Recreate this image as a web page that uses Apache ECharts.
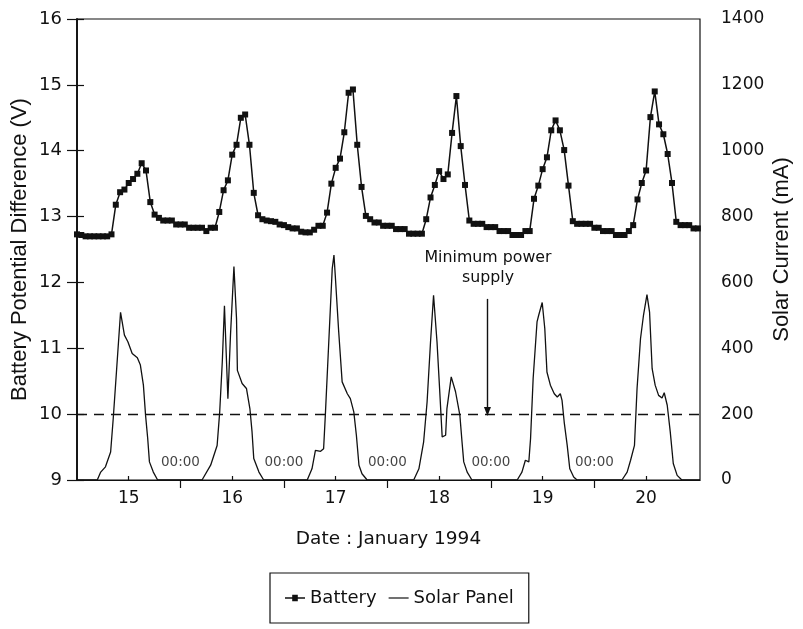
<!DOCTYPE html>
<html>
<head>
<meta charset="utf-8">
<script src="https://cdn.jsdelivr.net/npm/echarts@6/dist/echarts.min.js"></script>
<style>
  html, body { margin: 0; padding: 0; background: #fff; }
  #chart { width: 803px; height: 629px; }
</style>
</head>
<body>
<div id="chart"></div>
<script>
// Day labels shown at noon of each day (x axis is hours from 00:00, 15 Jan 1994)
const dayLabels = ['15', '16', '17', '18', '19', '20'];
const dayNoonHours = [12, 36, 60, 84, 108, 132];
const midnightHours = [24, 48, 72, 96, 120];

// Battery potential difference (V), hourly readings from 00:00 on the 15th
const batteryVolts = [
  12.73, 12.72, 12.70, 12.70, 12.70, 12.70, 12.70, 12.70, 12.73, 13.18,
  13.37, 13.41, 13.51, 13.57, 13.65, 13.81, 13.70, 13.22, 13.03, 12.98,
  12.94, 12.94, 12.94, 12.88, 12.88, 12.88, 12.83, 12.83, 12.83, 12.83,
  12.78, 12.83, 12.83, 13.07, 13.40, 13.55, 13.94, 14.09, 14.50, 14.55,
  14.09, 13.36, 13.02, 12.96, 12.94, 12.93, 12.92, 12.88,
  12.87, 12.84, 12.82, 12.82, 12.77, 12.76, 12.76, 12.80, 12.86, 12.86,
  13.06, 13.50, 13.74, 13.88, 14.28, 14.88, 14.93, 14.09, 13.45, 13.01,
  12.96, 12.91, 12.91, 12.86, 12.86, 12.86, 12.81, 12.81, 12.81, 12.74,
  12.74, 12.74, 12.74, 12.96, 13.29, 13.48, 13.69, 13.57, 13.64, 14.27,
  14.83, 14.07, 13.48, 12.94, 12.89, 12.89, 12.89, 12.84,
  12.84, 12.84, 12.78, 12.78, 12.78, 12.72, 12.72, 12.72, 12.78, 12.78,
  13.27, 13.47, 13.72, 13.90, 14.31, 14.46, 14.31, 14.01, 13.47, 12.93,
  12.89, 12.89, 12.89, 12.89, 12.83, 12.83, 12.78, 12.78, 12.78, 12.72,
  12.72, 12.72, 12.78, 12.87, 13.26, 13.51, 13.70, 14.51, 14.90, 14.40,
  14.25, 13.95, 13.51, 12.92, 12.87, 12.87, 12.87, 12.82, 12.82
];

// Solar panel current (mA): sample times (hours) and values
const solarHours = [
  0, 4.7, 5.5, 6.6, 7.8, 8.4, 9.2, 10.1, 11.0, 11.8, 12.8, 14.0, 14.7, 15.4, 15.9, 16.4, 16.8, 17.7, 18.7,
  29.0, 31.0, 32.5, 33.1, 33.7, 34.2, 35.0, 35.6, 36.4, 37.0, 37.2, 38.3, 39.3, 40.1, 40.6, 41.0, 42.2, 43.3,
  53.4, 54.5, 55.3, 56.5, 57.2, 57.6, 58.4, 59.2, 59.6, 59.9, 60.7, 61.5, 62.7, 63.4, 64.2, 64.8, 65.4, 66.1, 67.3,
  78.1, 79.3, 80.4, 81.2, 82.0, 82.7, 83.5, 84.1, 84.7, 85.5, 85.8, 86.8, 87.8, 88.8, 89.3, 89.7, 90.5, 91.6,
  102.1, 103.2, 104.0, 104.8, 105.2, 105.8, 106.7, 107.1, 107.9, 108.5, 109.0, 109.8, 110.7, 111.4, 112.1, 112.5, 113.0, 113.7, 114.3, 115.2, 116.0,
  126.4, 127.6, 128.4, 129.3, 129.9, 130.7, 131.4, 132.2, 132.8, 133.4, 134.1, 134.9, 135.7, 136.2, 136.9, 137.6, 138.3, 139.2, 140.3, 144.5
];
const solarCurrent = [
  0, 0, 24, 40, 85, 186, 338, 509, 440, 420, 384, 371, 349, 288, 197, 126, 55, 24, 0,
  0, 45, 105, 207, 359, 529, 247, 440, 648, 490, 333, 293, 278, 217, 146, 65, 24, 0,
  0, 34, 90, 87, 95, 197, 420, 642, 683, 622, 450, 298, 262, 247, 207, 136, 45, 19, 0,
  0, 34, 116, 237, 420, 561, 420, 278, 131, 136, 217, 313, 268, 197, 116, 55, 24, 0,
  0, 24, 60, 55, 126, 308, 480, 501, 539, 460, 328, 288, 262, 252, 262, 242, 176, 105, 34, 9, 0,
  0, 24, 60, 105, 278, 429, 501, 563, 510, 338, 288, 257, 249, 265, 227, 146, 50, 14, 0, 0
];

// Minimum power supply level (V) and the annotation arrow (hour, V from -> V to)
const minimumSupplyVolts = 10;
const arrowHour = 95.2;
const arrowFromVolts = 11.75;
const arrowToVolts = 10.04;
const midnightLabelVolts = 9.27;

const FONT = 'DejaVu Sans';
const TITLE_FONT = 'Liberation Sans';
const INK = '#111';

const batteryData = batteryVolts.map((v, h) => [h, v]);
const solarData = solarHours.map((h, i) => [h, solarCurrent[i]]);
const midnightData = midnightHours.map(h => [h, midnightLabelVolts]);

// Legend glyphs: line with a square marker, and a plain line
const batteryIcon = 'path://M0,4.3L7.2,4.3L7.2,1.8L12.8,1.8L12.8,4.3L20,4.3L20,5.7L12.8,5.7L12.8,8.2L7.2,8.2L7.2,5.7L0,5.7Z';
const solarIcon = 'path://M0,4.4L20,4.4L20,5.6L0,5.6Z';

const chart = echarts.init(document.getElementById('chart'), null, { renderer: 'canvas' });

chart.setOption({
  animation: false,
  backgroundColor: '#fff',
  textStyle: { fontFamily: FONT, color: INK },
  grid: {
    left: 77, right: 103, top: 19, bottom: 149,
    containLabel: false, outerBoundsMode: 'none',
    show: true, borderColor: INK, borderWidth: 1.2, backgroundColor: 'transparent'
  },
  legend: {
    data: [
      { name: 'Battery', icon: batteryIcon },
      { name: 'Solar Panel', icon: solarIcon }
    ],
    left: 270, top: 573,
    padding: [16, 15],
    itemGap: 12, itemWidth: 20, itemHeight: 10,
    borderColor: INK, borderWidth: 1.2,
    backgroundColor: '#fff',
    textStyle: { fontFamily: FONT, fontSize: 18, color: INK }
  },
  xAxis: [
    {
      type: 'value', min: 0, max: 144.5,
      name: 'Date : January 1994', nameLocation: 'middle', nameGap: 50, nameMoveOverlap: false,
      nameTextStyle: { fontFamily: FONT, fontSize: 18.5, color: INK },
      axisLine: { show: true, lineStyle: { color: INK, width: 1.2 } },
      axisTick: { show: true, inside: false, length: 8, customValues: midnightHours,
                  lineStyle: { color: INK, width: 1.2 } },
      axisLabel: { show: true, margin: 10, customValues: dayNoonHours,
                   fontFamily: FONT, fontSize: 17, color: INK,
                   formatter: v => dayLabels[Math.round((v - 12) / 24)] },
      splitLine: { show: false }
    },
    {
      type: 'value', min: 0, max: 144.5, position: 'bottom',
      axisLine: { show: false },
      axisTick: { show: true, inside: true, length: 4, customValues: dayNoonHours,
                  lineStyle: { color: INK, width: 1.2 } },
      axisLabel: { show: false },
      splitLine: { show: false }
    }
  ],
  yAxis: [
    {
      type: 'value', min: 9, max: 16, interval: 1, position: 'left',
      name: 'Battery Potential Difference (V)', nameLocation: 'middle', nameRotate: 90,
      nameGap: 46, nameMoveOverlap: false,
      nameTextStyle: { fontFamily: TITLE_FONT, fontSize: 22, color: INK },
      axisLine: { show: true, lineStyle: { color: INK, width: 1.5 } },
      axisTick: { show: true, inside: false, length: 10, lineStyle: { color: INK, width: 1.2 } },
      axisLabel: { margin: 15, fontFamily: FONT, fontSize: 18, color: INK },
      splitLine: { show: false }
    },
    {
      type: 'value', min: 0, max: 1400, interval: 200, position: 'right',
      name: 'Solar Current (mA)', nameLocation: 'middle', nameRotate: 90,
      nameGap: 71, nameMoveOverlap: false,
      nameTextStyle: { fontFamily: TITLE_FONT, fontSize: 22, color: INK },
      axisLine: { show: true, lineStyle: { color: INK, width: 1.5 } },
      axisTick: { show: true, inside: false, length: 7, lineStyle: { color: INK, width: 1.2 } },
      axisLabel: { margin: 21, fontFamily: FONT, fontSize: 17, color: INK,
                   formatter: v => String(v) },
      splitLine: { show: false }
    }
  ],
  series: [
    {
      name: 'Battery', type: 'line', xAxisIndex: 0, yAxisIndex: 0,
      data: batteryData,
      symbol: 'rect', symbolSize: 6, showSymbol: true,
      itemStyle: { color: INK },
      lineStyle: { color: INK, width: 1.5 },
      z: 3,
      markLine: {
        silent: true,
        animation: false,
        symbol: ['none', 'none'],
        label: { show: false },
        data: [
          {
            yAxis: minimumSupplyVolts,
            lineStyle: { color: INK, width: 1.4, type: [10, 7] }
          },
          [
            { coord: [arrowHour, arrowFromVolts], symbol: 'none',
              lineStyle: { color: INK, width: 1.4, type: 'solid' } },
            { coord: [arrowHour, arrowToVolts], symbol: 'triangle', symbolSize: [7, 9], symbolRotate: 180 }
          ]
        ]
      }
    },
    {
      name: 'Solar Panel', type: 'line', xAxisIndex: 0, yAxisIndex: 1,
      data: solarData,
      symbol: 'none', showSymbol: false,
      itemStyle: { color: INK },
      lineStyle: { color: INK, width: 1.3 },
      z: 2
    },
    {
      type: 'scatter', xAxisIndex: 0, yAxisIndex: 0,
      data: midnightData,
      symbolSize: 0, silent: true,
      label: { show: true, position: 'inside', formatter: '00:00',
               fontFamily: FONT, fontSize: 13.5, color: INK }
    }
  ],
  graphic: [
    { type: 'text', x: 488, y: 258, style: { text: 'Minimum power', fontFamily: FONT, fontSize: 15.8,
      fill: INK, align: 'center', verticalAlign: 'middle' } },
    { type: 'text', x: 488, y: 278, style: { text: 'supply', fontFamily: FONT, fontSize: 15.8,
      fill: INK, align: 'center', verticalAlign: 'middle' } }
  ]
});
</script>
</body>
</html>
